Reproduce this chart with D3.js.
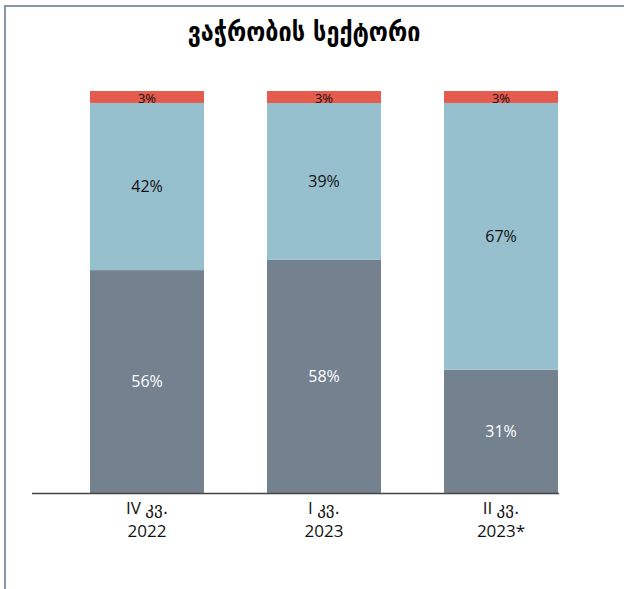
<!DOCTYPE html>
<html>
<head>
<meta charset="utf-8">
<script src="https://cdn.jsdelivr.net/npm/d3@7"></script>
<style>
  body { margin: 0; background: #fff; }
  svg { display: block; font-family: "Open Sans", "Liberation Sans", sans-serif; }
</style>
</head>
<body>
<div id="chart"></div>
<script>
    var title = "ვაჭრობის სექტორი";
    var quarters = ["IV", "I", "II"];
    var quarter_word = "კვ.";
    var years = ["2022", "2023", "2023*"];
    var series_keys = ["gray", "blue", "red"];
    var gray_values = [56, 58, 31];
    var blue_values = [42, 39, 67];
    var red_values = [3, 3, 3];
    var colours = {gray: "#74818f", blue: "#97c0ce", red: "#e55b4d"};
    var label_colours = {gray: "#ffffff", blue: "#111111", red: "#111111"};

    var W = 624, H = 589;

    var rows = quarters.map(function(q, i) {
        return {cat: i, gray: gray_values[i], blue: blue_values[i], red: red_values[i]};
    });

    var svg = d3.select("#chart").append("svg")
        .attr("width", W)
        .attr("height", H);

    // frame (top and left edges only)
    svg.append("line")
        .attr("x1", 4).attr("x2", W).attr("y1", 6).attr("y2", 6)
        .style("stroke", "#8a95a2").style("stroke-width", 2);
    svg.append("line")
        .attr("x1", 5).attr("x2", 5).attr("y1", 6).attr("y2", H)
        .style("stroke", "#8a95a2").style("stroke-width", 2);

    svg.append("text")
        .attr("x", 304)
        .attr("y", 41)
        .style("text-anchor", "middle")
        .style("font-family", "'DejaVu Sans Condensed', 'DejaVu Sans', sans-serif")
        .style("font-weight", "bold")
        .style("font-size", "26px")
        .text(title);

    var xScale = d3.scaleBand()
        .domain(d3.range(quarters.length))
        .range([58.5, 589.5])
        .paddingInner(0.356)
        .paddingOuter(0.178);

    var yScale = d3.scaleLinear().domain([0, 1]).range([493, 91]);

    var stack = d3.stack().keys(series_keys).offset(d3.stackOffsetExpand);
    var layers = stack(rows);

    var layer = svg.selectAll(".layer")
            .data(layers)
        .enter()
            .append("g")
                .attr("class", "layer");

    layer.selectAll("rect")
        .data(function(d) { return d.map(function(p) { return {key: d.key, p: p}; }); })
        .enter().append("rect")
            .attr("x", function(d) { return xScale(d.p.data.cat); })
            .attr("width", xScale.bandwidth())
            .attr("y", function(d) { return yScale(d.p[1]); })
            .attr("height", function(d) { return yScale(d.p[0]) - yScale(d.p[1]); })
            .style("fill", function(d) { return colours[d.key]; });

    layer.selectAll("text")
        .data(function(d) { return d.map(function(p) { return {key: d.key, p: p}; }); })
        .enter().append("text")
            .attr("x", function(d) { return xScale(d.p.data.cat) + xScale.bandwidth() / 2; })
            .attr("y", function(d) { return (yScale(d.p[0]) + yScale(d.p[1])) / 2; })
            .attr("dy", function(d) { return d.key === "red" ? "0.45em" : "0.36em"; })
            .style("text-anchor", "middle")
            .style("font-size", function(d) { return d.key === "red" ? "13px" : "16px"; })
            .style("fill", function(d) { return label_colours[d.key]; })
            .text(function(d) { return d.p.data[d.key] + "%"; });

    // x axis
    svg.append("line")
        .attr("x1", 32).attr("x2", xScale(2) + xScale.bandwidth() + 1)
        .attr("y1", 493.5).attr("y2", 493.5)
        .style("stroke", "#444").style("stroke-width", 1.5);

    var ticks = svg.selectAll(".qlabel")
            .data(quarters)
        .enter()
            .append("text")
                .attr("class", "qlabel")
                .attr("x", function(d, i) { return xScale(i) + xScale.bandwidth() / 2; })
                .attr("y", 514)
                .style("text-anchor", "middle")
                .style("font-size", "17px")
                .style("fill", "#111");

    ticks.append("tspan")
        .style("font-family", "'Open Sans', 'Liberation Sans', sans-serif")
        .text(function(d) { return d + " "; });
    ticks.append("tspan")
        .style("font-family", "'DejaVu Sans', sans-serif")
        .style("font-size", "17px")
        .text(quarter_word);

    svg.selectAll(".year")
            .data(years)
        .enter()
            .append("text")
                .attr("class", "year")
                .attr("x", function(d, i) { return xScale(i) + xScale.bandwidth() / 2; })
                .attr("y", 537)
                .style("text-anchor", "middle")
                .style("font-family", "'Open Sans', 'Liberation Sans', sans-serif")
                .style("font-size", "17px")
                .style("fill", "#111")
                .text(function(d) { return d; });
</script>
</body>
</html>
